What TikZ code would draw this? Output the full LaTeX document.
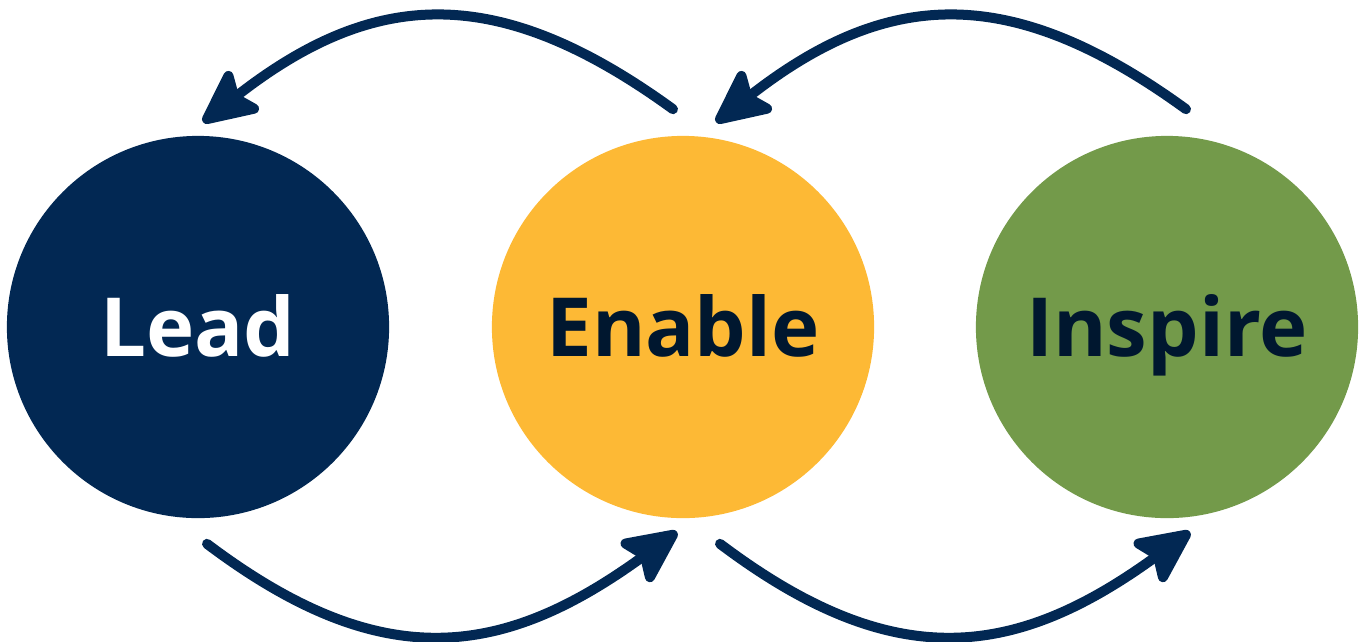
\documentclass[tikz,border=0pt]{standalone}
\usepackage{fontspec}
\setmainfont{Open Sans}
\usepackage{tikz}
\usetikzlibrary{arrows.meta,calc}
\definecolor{navy}{HTML}{022853}
\definecolor{gold}{HTML}{FDB935}
\definecolor{olive}{HTML}{739A4A}
\definecolor{ink}{HTML}{00172F}
\tikzset{stage/.style={circle,inner sep=0pt,minimum size=3.82cm,text height=16.6pt,text depth=0pt,font=\fontsize{23.2}{28}\selectfont\bfseries}}
\tikzset{flow/.style={-{Stealth[length=0.64cm,width=0.6cm,inset=0.12cm,round]},line width=0.1cm,line cap=round,draw=navy}}
\tikzset{every picture/.append style={x=0.01cm,y=0.01cm}}

\begin{document}
\begin{tikzpicture}
\useasboundingbox (0,0) rectangle (1361,641);
\node (lead) at (198,314)[stage,fill=navy,text=white]{Lead};
\node (enable) at (683,314)[stage,fill=gold,text=ink]{Enable};
\node (inspire) at (1167,314)[stage,fill=olive,text=ink]{Inspire};

% arrow ends
\coordinate (t1s) at ($(enable.north)+(-10,26)$);
\coordinate (t1e) at ($(lead.north)+(5,13)$);
\coordinate (t2s) at ($(inspire.north)+(19,26)$);
\coordinate (t2e) at ($(enable.north)+(33,13)$);
\coordinate (b1s) at ($(lead.south)+(9,-25)$);
\coordinate (b1e) at ($(enable.south)+(-6,-13)$);
\coordinate (b2s) at ($(enable.south)+(37,-25)$);
\coordinate (b2e) at ($(inspire.south)+(23,-13)$);

\draw[flow] (t1s) to[out=144,in=38,distance=2.17cm] (t1e);
\draw[flow] (t2s) to[out=144,in=38,distance=2.17cm] (t2e);
\draw[flow] (b1s) to[out=-37,in=216,distance=2.17cm] (b1e);
\draw[flow] (b2s) to[out=-37,in=216,distance=2.17cm] (b2e);
\end{tikzpicture}
\end{document}
